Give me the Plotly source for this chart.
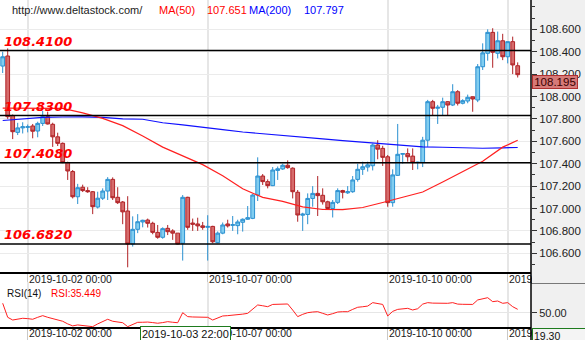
import plotly.graph_objects as go

# ---------------- data ----------------
opens = [108.272, 108.362, 107.83, 107.68, 107.72, 107.725, 107.737, 107.692, 107.76, 107.82,
         107.752, 107.64, 107.582, 107.41, 107.33, 107.105, 107.19, 107.16, 107.15, 107.013,
         107.092, 107.156, 107.26, 107.10, 107.058, 106.978, 106.683, 106.814, 106.88, 106.897,
         106.868, 106.787, 106.743, 106.823, 106.80, 106.78, 106.69, 107.10, 106.87, 106.862,
         106.845, 106.832, 106.84, 106.695, 106.78, 106.862, 106.85, 106.847, 106.877, 106.904,
         106.912, 107.12, 107.29, 107.24, 107.204, 107.34, 107.353, 107.386, 107.36, 107.145,
         106.94, 106.947, 107.09, 107.135, 107.118, 107.06, 107.0, 107.055, 107.16, 107.14,
         107.15, 107.26, 107.35, 107.37, 107.382, 107.567, 107.537, 107.462, 107.052, 107.296,
         107.485, 107.49, 107.468, 107.41, 107.41, 107.61, 107.954, 107.895, 107.904, 107.954,
         107.924, 108.043, 107.94, 107.96, 107.998, 107.969, 108.266, 108.386, 108.573, 108.386,
         108.498, 108.355, 108.49, 108.275]
highs = [108.40, 108.43, 107.84, 107.765, 107.77, 107.75, 107.755, 107.775, 107.873, 107.865,
         107.766, 107.677, 107.59, 107.418, 107.344, 107.22, 107.213, 107.19, 107.156, 107.15,
         107.18, 107.28, 107.278, 107.19, 107.067, 107.11, 106.93, 106.95, 106.90, 106.91,
         106.882, 106.853, 106.832, 106.853, 106.815, 106.78, 107.12, 107.105, 106.91, 106.918,
         106.88, 106.94, 106.846, 106.795, 106.875, 106.90, 106.933, 106.90, 106.912, 107.022,
         107.13, 107.457, 107.308, 107.26, 107.37, 107.375, 107.40, 107.43, 107.368, 107.165,
         106.962, 107.135, 107.20, 107.29, 107.18, 107.07, 107.076, 107.18, 107.167, 107.20,
         107.29, 107.40, 107.418, 107.418, 107.58, 107.61, 107.56, 107.478, 107.35, 107.755,
         107.495, 107.537, 107.537, 107.418, 107.64, 107.97, 107.97, 107.925, 107.99, 107.96,
         108.11, 108.057, 107.976, 108.017, 108.0, 108.29, 108.475, 108.60, 108.61, 108.58,
         108.56, 108.49, 108.535, 108.305]
lows = [108.21, 107.80, 107.62, 107.656, 107.67, 107.68, 107.627, 107.636, 107.737, 107.75,
        107.55, 107.558, 107.405, 107.255, 107.09, 107.04, 107.147, 107.14, 106.95, 107.0,
        107.076, 107.076, 107.076, 107.04, 106.86, 106.475, 106.66, 106.78, 106.832, 106.83,
        106.77, 106.73, 106.73, 106.763, 106.72, 106.68, 106.535, 106.81, 106.80, 106.80,
        106.81, 106.535, 106.69, 106.69, 106.77, 106.83, 106.80, 106.77, 106.794, 106.90,
        106.905, 107.067, 107.21, 107.18, 107.20, 107.255, 107.345, 107.355, 107.09, 106.882,
        106.80, 106.86, 107.016, 106.933, 107.035, 106.99, 106.92, 107.04, 107.09, 107.13,
        107.14, 107.24, 107.30, 107.33, 107.34, 107.44, 107.38, 107.016, 107.016, 107.29,
        107.40, 107.418, 107.344, 107.35, 107.37, 107.55, 107.835, 107.755, 107.83, 107.83,
        107.915, 107.92, 107.93, 107.94, 107.864, 107.95, 108.237, 108.32, 108.257, 108.34,
        108.325, 108.296, 108.20, 108.17]
closes = [108.355, 107.82, 107.686, 107.72, 107.73, 107.73, 107.69, 107.76, 107.82, 107.755,
          107.64, 107.582, 107.41, 107.335, 107.105, 107.186, 107.16, 107.15, 107.016, 107.092,
          107.156, 107.26, 107.096, 107.052, 106.97, 106.683, 106.814, 106.882, 106.895, 106.868,
          106.787, 106.743, 106.82, 106.793, 106.78, 106.683, 107.10, 106.832, 106.86, 106.845,
          106.832, 106.84, 106.703, 106.78, 106.853, 106.845, 106.855, 106.88, 106.904, 106.918,
          107.12, 107.29, 107.24, 107.204, 107.344, 107.355, 107.386, 107.365, 107.15, 106.942,
          106.95, 107.09, 107.135, 107.115, 107.06, 107.0, 107.055, 107.16, 107.145, 107.15,
          107.255, 107.35, 107.373, 107.39, 107.567, 107.53, 107.457, 107.052, 107.30, 107.484,
          107.49, 107.462, 107.41, 107.413, 107.61, 107.954, 107.895, 107.904, 107.954, 107.924,
          108.043, 107.94, 107.963, 107.993, 107.978, 108.266, 108.39, 108.573, 108.395, 108.498,
          108.355, 108.49, 108.282, 108.195]
rsi = [64.3, 43.0, 38.9, 40.5, 41.5, 41.0, 40.0, 43.0, 45.5, 43.0,
       41.0, 39.0, 37.0, 33.0, 30.0, 31.4, 30.5, 29.5, 28.8, 33.0,
       37.0, 40.0, 37.0, 35.5, 34.8, 28.8, 32.0, 35.4, 35.45, 35.8,
       35.0, 34.0, 35.0, 36.4, 35.5, 34.8, 50.0, 44.0, 43.5, 43.2,
       43.0, 43.0, 38.9, 42.0, 45.0, 45.5, 46.0, 46.5, 47.8, 49.0,
       55.0, 61.7, 60.5, 59.1, 62.5, 62.8, 63.0, 63.2, 54.0, 44.0,
       47.5, 50.0, 51.0, 51.5, 49.0, 46.5, 48.5, 51.0, 51.5, 51.5,
       55.0, 58.2, 59.0, 60.0, 65.2, 63.5, 62.5, 45.0, 52.0, 55.0,
       56.0, 56.6, 54.1, 56.0, 63.0, 65.2, 64.5, 64.2, 64.2, 64.2,
       65.2, 63.0, 62.7, 62.7, 62.5, 69.3, 71.0, 72.7, 66.7, 67.7,
       64.2, 65.2, 59.1, 55.1]
ma_idx = [0, 4, 8, 12, 16, 20, 24, 28, 32, 36, 40, 44, 48, 52, 56, 60, 64, 68, 72, 76,
          80, 84, 88, 92, 96, 100, 103]
ma50 = [107.897, 107.897, 107.896, 107.894, 107.854, 107.805, 107.740, 107.648, 107.548, 107.470,
        107.392, 107.293, 107.176, 107.099, 107.064, 107.014, 106.991, 106.990, 107.009, 107.054,
        107.098, 107.147, 107.237, 107.326, 107.421, 107.548, 107.609]
ma200 = [107.786, 107.800, 107.814, 107.817, 107.819, 107.814, 107.800, 107.797, 107.766, 107.747,
         107.728, 107.705, 107.683, 107.666, 107.653, 107.638, 107.621, 107.606, 107.592, 107.578,
         107.563, 107.551, 107.547, 107.541, 107.538, 107.542, 107.545]
levels = [108.41, 107.83, 107.408, 106.682]
level_labels = ["108.4100", "107.8300", "107.4080", "106.6820"]
date_tick_idx = [5, 41, 77, 101]
date_tick_text = ["2019-10-02 00:00", "2019-10-07 00:00", "2019-10-10 00:00", "2019-10-14 00:00"]
price_ticks = [106.6, 106.8, 107.0, 107.2, 107.4, 107.6, 107.8, 108.0, 108.2, 108.4, 108.6]
rsi_ticks = [50]
cross_idx = 28
cross_label = "2019-10-03 22:00"
cross_ma50 = "107.651"
cross_ma200 = "107.797"
cross_rsi = "35.449"
cursor_value = "19.30"
site = "http://www.deltastock.com/"

# ---------------- styling ----------------
W, H = 585, 340
PR = 531 / W
UP_FILL, UP_LINE = "#80cdf0", "#2b90d0"
DN_FILL, DN_LINE = "#d66b6b", "#b02226"
PANEL = "#f0f0f0"
FONT = "Liberation Sans"
x = list(range(len(closes)))


def py(px):
    return 1 - px / H


fig = go.Figure()
fig.add_trace(go.Candlestick(
    x=x, open=opens, high=highs, low=lows, close=closes,
    increasing=dict(line=dict(color=UP_LINE, width=1), fillcolor=UP_FILL),
    decreasing=dict(line=dict(color=DN_LINE, width=1), fillcolor=DN_FILL),
    whiskerwidth=0, hoverinfo="skip", xaxis="x", yaxis="y"))
fig.add_trace(go.Scatter(x=ma_idx, y=ma200, mode="lines",
                         line=dict(color="#1010ff", width=1.2), hoverinfo="skip"))
fig.add_trace(go.Scatter(x=ma_idx, y=ma50, mode="lines",
                         line=dict(color="#ff2020", width=1.2), hoverinfo="skip"))
fig.add_trace(go.Scatter(x=x, y=rsi, mode="lines", xaxis="x2", yaxis="y2",
                         line=dict(color="#ff2020", width=1), hoverinfo="skip"))

xr = [-0.54, 105.66]
common_x = dict(range=xr, tickmode="array", tickvals=date_tick_idx, ticktext=date_tick_text,
                ticklabelposition="outside right", ticklabeloverflow="allow",
                ticks="outside", tickcolor="#c8c8c8", showgrid=True, gridcolor="#e6e6e6",
                gridwidth=1.5, showline=True, linecolor="black", linewidth=1.5,
                zeroline=False, automargin=False,
                tickfont=dict(family=FONT, size=10.5, color="#1a1a1a"), fixedrange=True)

shapes = [
    dict(type="rect", xref="paper", yref="paper", x0=PR, x1=1, y0=0, y1=1,
         fillcolor=PANEL, line=dict(width=0), layer="below"),
]
for lv in levels:
    shapes.append(dict(type="line", xref="paper", yref="y", x0=0, x1=PR, y0=lv, y1=lv,
                       line=dict(color="black", width=1.5), layer="above"))
shapes += [
    dict(type="line", xref="paper", yref="paper", x0=PR, x1=PR, y0=0, y1=1,
         line=dict(color="black", width=1.5), layer="above"),
    dict(type="line", xref="paper", yref="paper", x0=PR, x1=1, y0=py(283), y1=py(283),
         line=dict(color="black", width=1.2), layer="above"),
]

ann = [
    dict(text=site, x=10 / W, y=py(10), xanchor="left", yanchor="middle",
         font=dict(family=FONT, size=11, color="#222")),
    dict(text="MA(50)", x=157 / W, y=py(10), xanchor="left", yanchor="middle",
         font=dict(family=FONT, size=11, color="#ff0000")),
    dict(text=cross_ma50, x=205 / W, y=py(10), xanchor="left", yanchor="middle",
         font=dict(family=FONT, size=11, color="#ff0000")),
    dict(text="MA(200)", x=247 / W, y=py(10), xanchor="left", yanchor="middle",
         font=dict(family=FONT, size=11, color="#0000ff")),
    dict(text=cross_ma200, x=302 / W, y=py(10), xanchor="left", yanchor="middle",
         font=dict(family=FONT, size=11, color="#0000ff")),
    dict(text="RSI(14)", x=5 / W, y=py(293), xanchor="left", yanchor="middle",
         font=dict(family=FONT, size=10, color="#111")),
    dict(text="RSI:" + cross_rsi, x=49 / W, y=py(293), xanchor="left", yanchor="middle",
         font=dict(family=FONT, size=10, color="#ff0000")),
    # panel cover that clips the overflowing date label at the right axis panel
    dict(text=" ", x=(PR * W + 1) / W, y=py(272.5), xanchor="left", yanchor="top",
         width=W - PR * W - 1, height=9.5, borderpad=0, borderwidth=0, bgcolor=PANEL,
         font=dict(size=8)),
]
for a in ann:
    a.update(xref="paper", yref="paper", showarrow=False)
for lv, lab in zip(levels, level_labels):
    ann.append(dict(text="<b><i>" + lab + "</i></b>", xref="paper", yref="y", x=2 / W, y=lv,
                    xanchor="left", yanchor="bottom", yshift=0, showarrow=False,
                    font=dict(family="DejaVu Sans", size=13, color="#ff0000")))
ann += [
    dict(text=f"{closes[-1]:.3f}", xref="paper", yref="y", x=PR + 1 / W, y=closes[-1],
         xanchor="left", yanchor="top", showarrow=False, width=44, height=12,
         bgcolor="#d67a78", bordercolor="#b03030", borderwidth=1, borderpad=0,
         font=dict(family=FONT, size=11.5, color="#3a0000")),
    dict(text=cross_label, xref="x2", yref="paper", x=cross_idx - 0.55, y=py(326),
         xanchor="left", yanchor="top", showarrow=False, bgcolor="white",
         bordercolor="#1e7b1e", borderwidth=1, borderpad=1,
         font=dict(family=FONT, size=11, color="#111")),
    dict(text=cursor_value, xref="paper", yref="paper", x=PR + 1 / W, y=py(328),
         xanchor="left", yanchor="top", showarrow=False, bgcolor="#f4f4f4", width=50,
         align="left", bordercolor="#1e7b1e", borderwidth=1, borderpad=1,
         font=dict(family=FONT, size=10.5, color="#111")),
]

fig.update_layout(
    width=W, height=H, margin=dict(l=0, r=0, t=0, b=0, autoexpand=False),
    paper_bgcolor="white", plot_bgcolor="white", showlegend=False,
    boxgap=0.25, boxgroupgap=0,
    xaxis=dict(domain=[0, PR], anchor="y", ticklen=11, ticklabelstandoff=-3,
               rangeslider=dict(visible=False), **common_x),
    xaxis2=dict(domain=[0, PR], anchor="y2", ticklen=13, ticklabelstandoff=-4, **common_x),
    yaxis=dict(domain=[py(272), 1], anchor="x", side="right", range=[106.433, 108.862],
               tickmode="array", tickvals=price_ticks, tickformat=".3f",
               ticks="outside", ticklen=5, tickcolor="#333", showgrid=True, gridcolor="#ebebeb",
               gridwidth=1.2, showline=False, zeroline=False, automargin=False,
               minor=dict(tickmode="linear", tick0=106.5, dtick=0.1, ticks="outside",
                          ticklen=3, tickcolor="#333", showgrid=False),
               tickfont=dict(family=FONT, size=11.5, color="#222"), fixedrange=True),
    yaxis2=dict(domain=[py(327), py(282)], anchor="x2", side="right", range=[28.3, 96.5],
                tickmode="array", tickvals=rsi_ticks, tickformat=".2f",
                ticks="outside", ticklen=5, tickcolor="#333", showgrid=True,
                gridcolor="#e6e6e6", showline=False, zeroline=False, automargin=False,
                tickfont=dict(family=FONT, size=11, color="#222"), fixedrange=True),
    shapes=shapes, annotations=ann,
)

fig.write_html("out.html")
